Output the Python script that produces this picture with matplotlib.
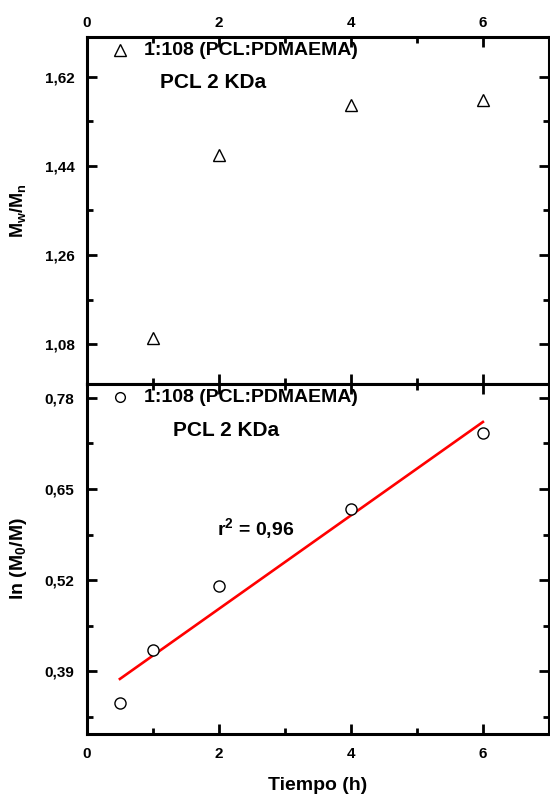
import numpy as np
import matplotlib
matplotlib.use('Agg')
import matplotlib.pyplot as plt
from matplotlib.ticker import FixedLocator, MultipleLocator

plt.rcParams['font.family'] = ['Liberation Sans', 'DejaVu Sans']
plt.rcParams['font.weight'] = 'bold'
plt.rcParams['mathtext.fontset'] = 'custom'
plt.rcParams['mathtext.rm'] = 'Liberation Sans:bold'
plt.rcParams['mathtext.bf'] = 'Liberation Sans:bold'
plt.rcParams['mathtext.it'] = 'Liberation Sans:bold'

## data
t_pdi = [1, 2, 4, 6]
pdi = [1.092, 1.462, 1.562, 1.572]
t_kin = [0.5, 1, 2, 4, 6]
ln_m0m = [0.344, 0.4205, 0.511, 0.622, 0.730]

x_ticks = [0, 2, 4, 6]
pdi_ticks = [1.08, 1.26, 1.44, 1.62]
pdi_labels = ['1,08', '1,26', '1,44', '1,62']
kin_ticks = [0.39, 0.52, 0.65, 0.78]
kin_labels = ['0,39', '0,52', '0,65', '0,78']

legend_txt = '1:108 (PCL:PDMAEMA)'
sub_txt = 'PCL 2 KDa'

fig = plt.figure(figsize=(5.5, 7.95), dpi=100)
ax1 = fig.add_axes([0.158, 0.517, 0.840, 0.4365])
ax2 = fig.add_axes([0.158, 0.0767, 0.840, 0.4403])

def style(ax):
    for s in ax.spines.values():
        s.set_linewidth(2.2)
    ax.set_xlim(0, 7)
    ax.xaxis.set_major_locator(FixedLocator(x_ticks))
    ax.xaxis.set_minor_locator(MultipleLocator(1))
    ax.tick_params(which='both', direction='in', top=True, right=True, width=2, labelsize=11, pad=9)
    ax.tick_params(which='major', length=7)
    ax.tick_params(which='minor', length=4)

# upper panel: Mw/Mn
ax1.plot(t_pdi, pdi, ls='none', marker='^', ms=9, mfc='white', mec='black', mew=1)
ax1.set_ylim(1.0, 1.70)
ax1.set_yticks(pdi_ticks)
ax1.set_yticklabels(pdi_labels, fontweight='bold')
ax1.yaxis.set_minor_locator(FixedLocator([1.17, 1.35, 1.53]))
style(ax1)
ax1.tick_params(axis='x', labelbottom=False, labeltop=True, pad=5)
ax1.set_xticklabels([str(v) for v in x_ticks], fontweight='bold')
ax1.set_ylabel(r'M$_{\mathregular{w}}$/M$_{\mathregular{n}}$', fontsize=13, fontweight='bold', labelpad=12)
ax1.plot([0.5], [1.673], ls='none', marker='^', ms=8, mfc='white', mec='black', mew=1)
ax1.text(0.87, 1.673, legend_txt, fontsize=14, fontweight='bold', va='center')
ax1.text(1.1, 1.6085, sub_txt, fontsize=15, fontweight='bold', va='center')

# lower panel: ln(M0/M) kinetics
slope, icpt = np.polyfit(t_kin, ln_m0m, 1)
xf = np.array([min(t_kin), max(t_kin)])
ax2.plot(xf, slope * xf + icpt, color='red', lw=1.9)
ax2.plot(t_kin, ln_m0m, ls='none', marker='o', ms=8, mfc='white', mec='black', mew=1)
ax2.set_ylim(0.30, 0.80)
ax2.set_yticks(kin_ticks)
ax2.set_yticklabels(kin_labels, fontweight='bold')
ax2.yaxis.set_minor_locator(FixedLocator([0.325, 0.455, 0.585, 0.715]))
style(ax2)
ax2.set_xticklabels([str(v) for v in x_ticks], fontweight='bold')
ax2.set_xlabel('Tiempo (h)', fontsize=14, fontweight='bold', labelpad=12)
ax2.set_ylabel(r'ln (M$_{\mathregular{0}}$/M)', fontsize=14, fontweight='bold', labelpad=11)
ax2.plot([0.5], [0.781], ls='none', marker='o', ms=7, mfc='white', mec='black', mew=1)
ax2.text(0.87, 0.781, legend_txt, fontsize=14, fontweight='bold', va='center')
ax2.text(1.3, 0.733, sub_txt, fontsize=15, fontweight='bold', va='center')
ax2.text(1.97, 0.594, r'r$^{\mathregular{2}}$ = 0,96', fontsize=14, fontweight='bold', va='center')

fig.savefig('out.png', dpi=100)
